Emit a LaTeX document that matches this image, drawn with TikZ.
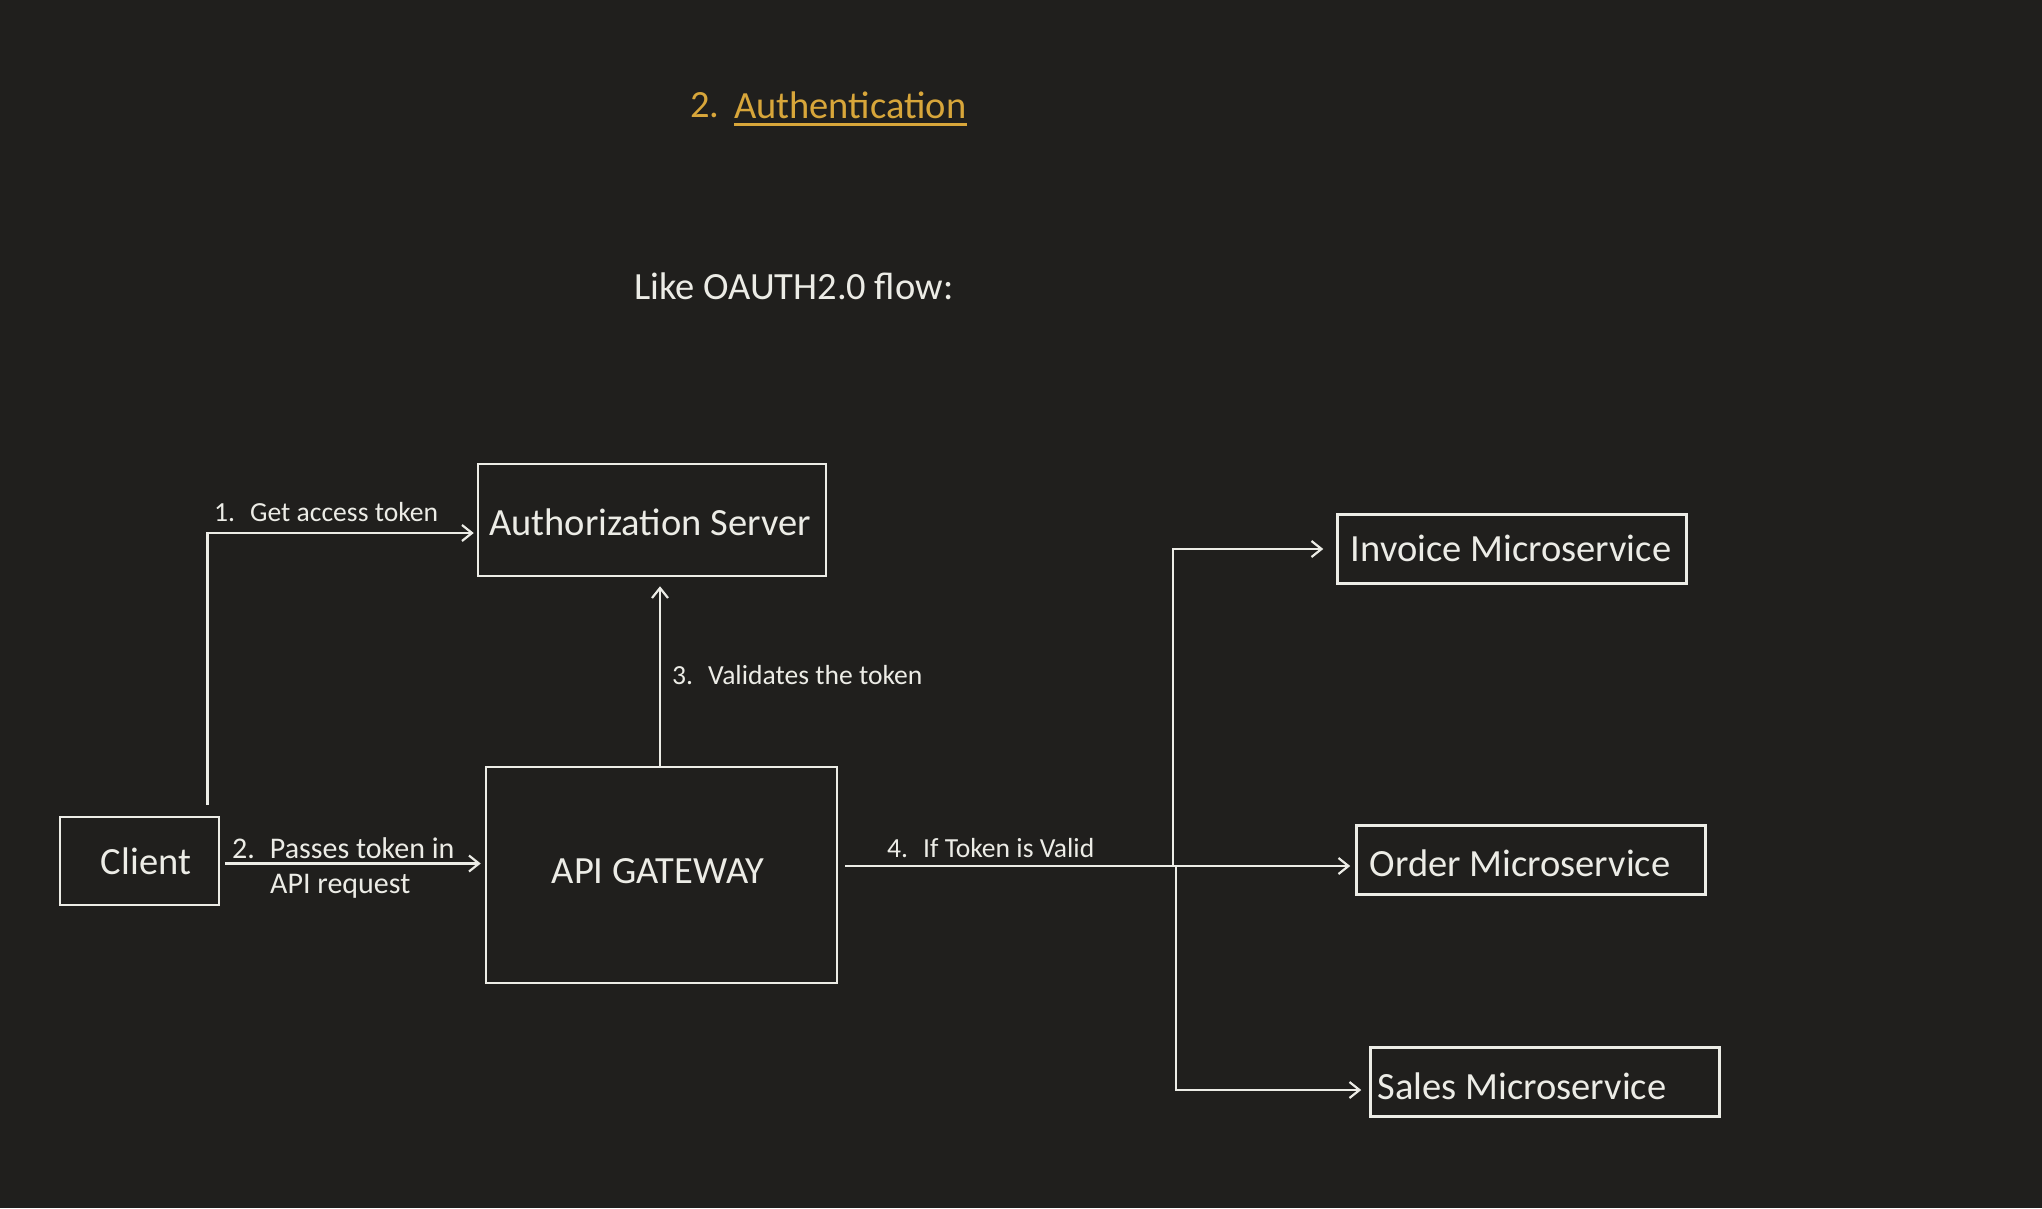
\documentclass[tikz,border=0pt]{standalone}
\usepackage{fontspec}
\setmainfont{Carlito}
\usetikzlibrary{arrows.meta,calc}
\definecolor{bg}{HTML}{201F1D}
\definecolor{ink}{HTML}{ECECE6}
\definecolor{gold}{HTML}{D8A63A}
\newcommand{\bigtxt}{\fontsize{38.5}{44}\selectfont}
\newcommand{\smtxt}{\fontsize{27.6}{32}\selectfont}
\newcommand{\midtxt}{\fontsize{30}{34}\selectfont}
\tikzset{
  boxnode/.style={draw=ink, line width=2.5pt, rectangle, inner sep=0pt},
  boxtxt/.style={text=ink, font=\bigtxt, inner sep=0pt},
  lbl/.style={text=ink, font=\smtxt, inner sep=0pt, anchor=west},
  conn/.style={draw=ink, line width=2.6pt},
  arr/.style={conn, -{Straight Barb[length=10pt,width=16pt,line width=2.2pt]}}
}
\begin{document}
\begin{tikzpicture}[x=1pt,y=-1pt]
\fill[bg] (0,0) rectangle (2042,1208);
\useasboundingbox (0,0) rectangle (2042,1208);

% title
\node[text=gold, font=\bigtxt, inner sep=0pt, anchor=west] (tnum) at (690,105) {2.};
\node[text=gold, font=\bigtxt, inner sep=0pt, anchor=west] (tword) at (734,105) {Authentication};
\draw[gold, line width=3pt] ([yshift=-6pt]tword.base west) -- ([yshift=-6pt]tword.base east);

\node[text=ink, font=\bigtxt, inner sep=0pt, anchor=west] (sub) at (634,286) {Like OAUTH2.0 flow:};

% boxes
\node[boxnode, minimum width=348pt, minimum height=112pt] (auth) at (652,520) {};
\node[boxtxt] (autht) at (650,522) {Authorization Server};
\node[boxnode, minimum width=159pt, minimum height=88pt] (client) at (139.5,861) {};
\node[boxtxt] (clientt) at (146,861) {Client};
\node[boxnode, minimum width=351pt, minimum height=216pt] (api) at (661.5,875) {};
\node[boxtxt] (apit) at (658,871) {API GATEWAY};
\node[boxnode, minimum width=349pt, minimum height=69pt] (inv) at (1512,549) {};
\node[boxtxt] (invt) at (1511,548) {Invoice Microservice};
\node[boxnode, minimum width=349pt, minimum height=69pt] (ord) at (1531,860) {};
\node[boxtxt] (ordt) at (1520,863) {Order Microservice};
\node[boxnode, minimum width=349pt, minimum height=69pt] (sal) at (1545,1082) {};
\node[boxtxt] (salt) at (1522,1086) {Sales Microservice};

% labels
\node[lbl] (l1) at (214,512) {1.\hspace{15pt}Get access token};
\node[lbl, font=\midtxt] (l2) at (232,848) {2.\hspace{15pt}Passes token in};
\node[lbl, font=\midtxt] (l2b) at (270,886) {API request};
\node[lbl] (l3) at (672,675) {3.\hspace{15pt}Validates the token};
\node[lbl] (l4) at (887,848) {4.\hspace{15pt}If Token is Valid};

% connectors
\coordinate (c1) at ([xshift=-13pt,yshift=11pt]client.north east);
\draw[arr] (c1) |- ([xshift=-3pt,yshift=-13pt]auth.west);
\draw[arr] ([xshift=5pt,yshift=-2.5pt]client.east) -- ([xshift=-4pt,yshift=-2.5pt]client.east -| api.west);
\draw[arr] ([xshift=-1.5pt]api.north) -- ([xshift=-1.5pt,yshift=-9pt]api.north |- auth.south);
\coordinate (br) at (1173,866);
\draw[conn] ([xshift=7pt,yshift=9pt]api.east) -- (br);
\draw[arr] (br) |- ([xshift=-13pt]inv.west);
\draw[arr] (br) -- ([xshift=-5pt]ord.west |- br);
\draw[arr] ([xshift=3pt]br) |- ([xshift=-8pt,yshift=-8pt]sal.west);
\end{tikzpicture}
\end{document}
